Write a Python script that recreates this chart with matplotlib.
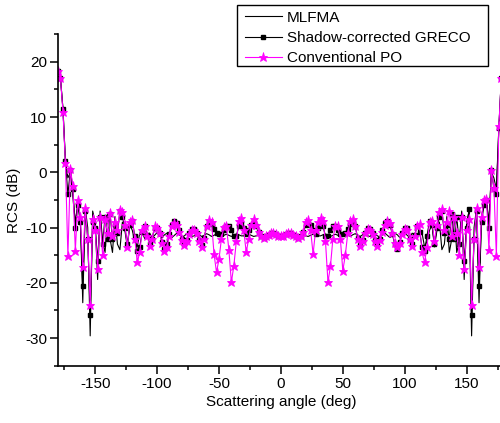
import numpy as np
import matplotlib
matplotlib.use("Agg")
import matplotlib.pyplot as plt
import matplotlib.patches as patches
from matplotlib.ticker import MultipleLocator

plt.rcParams['font.family'] = ['Liberation Sans', 'DejaVu Sans']
plt.rcParams['axes.unicode_minus'] = False

# scattering angle grid (deg), 2 deg steps
angle = np.arange(-180, 181, 2)

# RCS (dB), one row = 10 points (20 deg)
mlfma = [
    18.3, 17.0, 11.5, 2.0, -1.0, 0.0, -4.5, -9.0, -5.5, -8.0,            # -180
    -23.6, -6.5, -10.0, -29.6, -7.0, -9.0, -19.4, -7.0, -12.5, -14.5,    # -160
    -7.5, -12.0, -14.5, -8.0, -13.0, -14.0, -9.0, -10.5, -13.5, -9.5,    # -140
    -10.5, -12.5, -13.5, -11.0, -10.8, -12.0, -11.5, -11.0, -11.8, -11.4,  # -120
    -10.9, -11.5, -11.8, -11.3, -11.0, -11.4, -11.8, -11.4, -11.0, -11.3,  # -100
    -11.7, -11.5, -11.1, -11.2, -11.6, -11.5, -11.1, -11.3, -11.6, -11.4,  # -80
    -11.1, -11.3, -11.6, -11.4, -11.1, -11.3, -11.6, -11.4, -11.2, -11.4,  # -60
    -11.6, -11.4, -11.2, -11.3, -11.5, -11.5, -11.3, -11.2, -11.4, -11.6,  # -40
    -11.5, -11.4, -11.5, -11.7, -11.6, -11.4, -11.2, -11.2, -11.3, -11.5,  # -20
    -11.6, -11.5, -11.3, -11.2, -11.2, -11.4, -11.6, -11.7, -11.5, -11.4,  # 0
    -11.5, -11.6, -11.4, -11.2, -11.3, -11.5, -11.5, -11.3, -11.2, -11.4,  # 20
    -11.6, -11.4, -11.2, -11.4, -11.6, -11.3, -11.1, -11.4, -11.6, -11.3,  # 40
    -11.1, -11.4, -11.6, -11.3, -11.1, -11.5, -11.6, -11.2, -11.1, -11.5,  # 60
    -11.7, -11.3, -11.0, -11.4, -11.8, -11.4, -11.0, -11.3, -11.8, -11.5,  # 80
    -10.9, -11.4, -11.8, -11.0, -11.5, -12.0, -10.8, -11.0, -13.5, -12.5,  # 100
    -10.5, -9.5, -13.5, -10.5, -9.0, -14.0, -13.0, -8.0, -14.5, -12.0,     # 120
    -7.5, -14.5, -12.5, -7.0, -19.4, -9.0, -7.0, -29.6, -10.0, -6.5,       # 140
    -23.6, -8.0, -5.5, -5.0, -9.0, 0.0, -1.0, -3.0, 8.0, 17.0,             # 160
    18.3,
]

greco = [
    18.3, 17.0, 11.5, 2.0, -4.0, 0.5, -3.0, -10.0, -6.0, -9.0,
    -20.6, -7.0, -12.0, -25.8, -9.0, -10.0, -16.0, -8.0, -13.0, -8.0,
    -12.0, -7.5, -12.0, -9.5, -11.0, -7.0, -8.0, -10.0, -13.0, -9.5,
    -8.8, -11.5, -14.2, -13.5, -10.8, -9.8, -11.3, -13.0, -12.0, -10.0,
    -10.0, -11.0, -12.6, -13.8, -13.0, -11.2, -9.5, -8.8, -9.2, -10.5,
    -12.0, -13.0, -12.3, -11.0, -10.3, -10.3, -11.0, -12.3, -13.2, -11.8,
    -9.8, -9.0, -9.3, -10.2, -11.0, -11.2, -11.2, -10.5, -9.8, -9.7,
    -10.5, -11.5, -11.5, -9.8, -9.1, -10.0, -11.2, -10.5, -9.5, -9.1,
    -9.8, -10.8, -11.5, -11.8, -11.6, -11.3, -11.0, -11.0, -11.2, -11.5,
    -11.6, -11.5, -11.2, -11.0, -11.0, -11.3, -11.6, -11.8, -11.5, -10.8,
    -9.6, -9.1, -9.5, -10.5, -11.2, -10.0, -9.1, -9.8, -11.5, -11.5,
    -10.5, -9.7, -9.8, -10.5, -11.2, -11.2, -11.0, -10.2, -9.3, -9.0,
    -9.8, -11.8, -13.2, -12.3, -11.0, -10.0, -10.3, -11.0, -12.3, -13.0,
    -12.0, -10.5, -9.2, -8.8, -9.5, -11.2, -13.0, -13.8, -12.6, -11.0,
    -10.0, -10.0, -12.0, -13.0, -11.3, -9.8, -10.8, -13.5, -14.2, -11.5,
    -8.8, -9.5, -13.0, -10.0, -8.0, -7.0, -11.0, -9.5, -12.0, -7.5,
    -12.0, -8.0, -13.0, -8.0, -16.0, -10.0, -6.7, -25.8, -12.0, -7.0,
    -20.6, -9.0, -6.0, -5.0, -10.0, 0.5, -3.0, -4.0, 8.0, 17.0,
    18.3,
]

po = [
    18.3, 17.0, 11.0, 1.7, -15.2, 0.6, -2.5, -14.2, -5.0, -8.0,
    -17.2, -6.5, -12.0, -24.0, -8.5, -10.5, -17.5, -8.0, -15.0, -8.5,
    -11.0, -7.3, -11.5, -9.0, -10.5, -6.8, -7.2, -9.5, -13.5, -9.0,
    -8.6, -12.0, -16.3, -14.5, -10.5, -9.8, -11.5, -13.3, -12.0, -9.8,
    -10.0, -11.0, -12.8, -14.2, -13.5, -11.5, -9.8, -9.1, -9.5, -10.8,
    -12.3, -13.1, -12.5, -11.2, -10.5, -10.4, -11.0, -12.5, -13.5, -12.0,
    -9.8, -8.6, -9.0, -14.8, -18.1, -15.7, -12.0, -9.9, -9.7, -14.1,
    -19.9, -16.9, -12.5, -8.8, -8.2, -10.5, -14.5, -12.0, -9.5, -8.5,
    -9.5, -10.8, -11.6, -11.8, -11.6, -11.3, -11.0, -11.0, -11.2, -11.5,
    -11.6, -11.5, -11.2, -11.0, -11.0, -11.3, -11.6, -11.8, -11.6, -10.8,
    -9.0, -8.6, -10.5, -14.8, -10.5, -9.0, -8.2, -8.8, -12.5, -19.9,
    -17.0, -12.0, -9.8, -9.7, -12.0, -17.8, -15.0, -11.0, -8.8, -8.5,
    -9.8, -12.0, -13.3, -12.5, -11.0, -10.3, -10.5, -11.2, -12.5, -13.3,
    -12.3, -10.8, -9.5, -8.8, -9.2, -11.0, -12.8, -13.5, -12.8, -11.2,
    -10.3, -10.5, -12.0, -13.3, -11.5, -9.8, -9.4, -14.5, -16.3, -13.5,
    -9.0, -8.8, -12.5, -9.5, -7.2, -6.7, -10.5, -9.0, -7.0, -11.5,
    -8.0, -11.0, -15.0, -8.0, -17.5, -10.5, -8.5, -24.0, -12.0, -6.5,
    -17.2, -8.0, -5.0, -4.9, -14.0, 0.5, -2.8, -15.1, 8.4, 17.0,
    18.3,
]

labels = ['MLFMA', 'Shadow-corrected GRECO', 'Conventional PO']

fig = plt.figure(figsize=(5.0, 4.23), dpi=100)
# right spine sits just past the image edge, like the cropped original
ax = fig.add_axes([0.116, 0.1355, 0.8916, 0.7835])

ax.plot(angle, mlfma, color='black', lw=0.8, label=labels[0])
ax.plot(angle, greco, color='black', lw=0.8, marker='s', markersize=2.2,
        label=labels[1])
ax.plot(angle, po, color='#ff00ff', lw=0.8, marker='*', markersize=6.5,
        markeredgewidth=0.6, label=labels[2])

ax.set_xlim(-180, 180)
ax.set_ylim(-35, 25)
ax.xaxis.set_major_locator(MultipleLocator(50))
ax.xaxis.set_minor_locator(MultipleLocator(25))
ax.yaxis.set_major_locator(MultipleLocator(10))
ax.yaxis.set_minor_locator(MultipleLocator(5))
ax.set_xticks([-150, -100, -50, 0, 50, 100, 150])
ax.set_yticks([-30, -20, -10, 0, 10, 20])

ax.spines['top'].set_visible(False)
ax.spines['right'].set_visible(False)
for s in ('left', 'bottom'):
    ax.spines[s].set_linewidth(1.2)
ax.tick_params(which='major', direction='out', length=5.5, width=1.1,
               labelsize=11, pad=2.5)
ax.tick_params(which='minor', direction='out', length=3, width=1.1)

ax.set_xlabel('Scattering angle (deg)', fontsize=11, labelpad=3)
ax.set_ylabel('RCS (dB)', fontsize=11, labelpad=3)

# legend entries without frame, box drawn separately (wider right margin)
fig.legend(loc='upper left', bbox_to_anchor=(245 / 500, 1 - 10.5 / 423),
           bbox_transform=fig.transFigure, fontsize=11, frameon=False,
           borderaxespad=0, borderpad=0, handlelength=2.42,
           handletextpad=0.33, labelspacing=0.42)
fig.patches.append(patches.Rectangle((237 / 500, 1 - 66 / 423), 251 / 500, 61 / 423,
                                     transform=fig.transFigure, fill=False,
                                     edgecolor='black', linewidth=1.0))

fig.savefig('out.png', dpi=100)
